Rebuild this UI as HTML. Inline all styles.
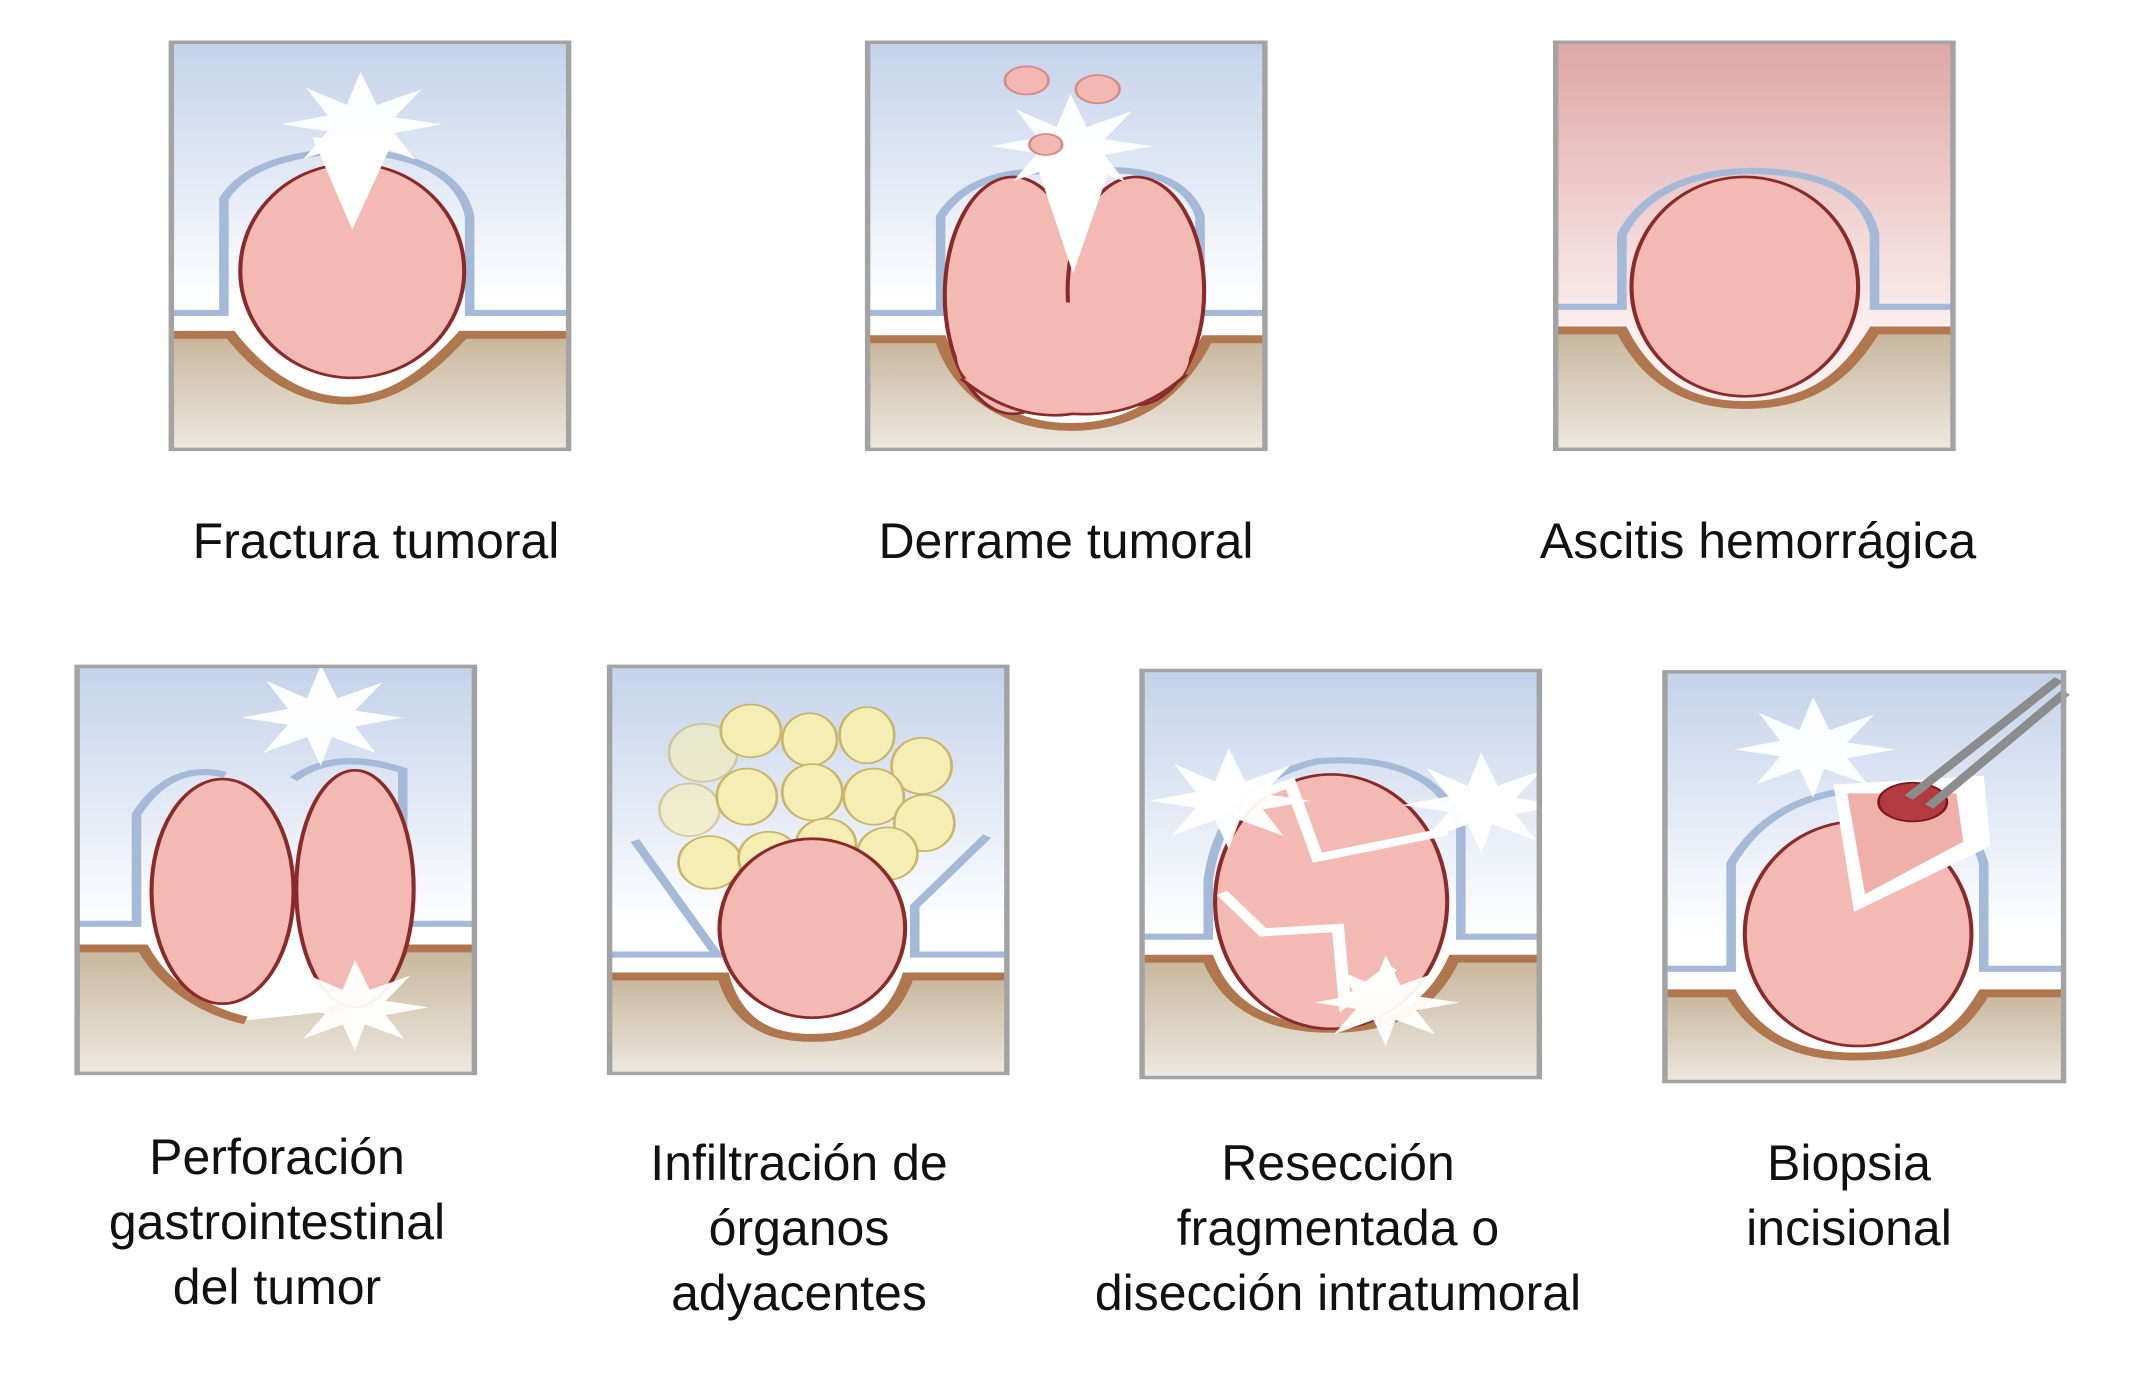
<!DOCTYPE html>
<html><head><meta charset="utf-8"><style>
html,body{margin:0;padding:0;background:#fff;}
#w{position:relative;width:2138px;height:1382px;overflow:hidden;}
svg{position:absolute;left:0;top:0;}
.t{position:absolute;font-family:"Liberation Sans",sans-serif;font-size:50px;line-height:65px;color:#111;text-align:center;white-space:nowrap;transform:translateX(-50%);}
</style></head><body><div id="w">
<svg width="2138" height="1382" viewBox="0 0 1566 1012" preserveAspectRatio="none">
<defs>
<linearGradient id="sky" x1="0" y1="0" x2="0" y2="1"><stop offset="0" stop-color="#c4d2ea"/><stop offset="0.65" stop-color="#ffffff"/></linearGradient>
<linearGradient id="psky" x1="0" y1="0" x2="0" y2="1"><stop offset="0" stop-color="#dfa6a6"/><stop offset="0.7" stop-color="#fbefef"/></linearGradient>
<linearGradient id="gr" x1="0" y1="0" x2="0" y2="1"><stop offset="0" stop-color="#c7b69c"/><stop offset="1" stop-color="#eee9e1"/></linearGradient>
<g id="star"><polygon points="0,-60 12,-22 45,-40 25,-8 60,0 25,10 40,40 8,22 0,55 -10,22 -42,40 -24,8 -58,0 -24,-10 -40,-42 -10,-22" fill="#ffffff" opacity="0.95"/></g>
</defs>
<g fill="none">
<!-- P1 -->
<g transform="translate(124,30) scale(1,0.6424)">
<rect width="294" height="467" fill="url(#sky)"/>
<path d="M0,335 H45 C70,385 100,410 130,410 C170,410 200,360 215,335 H294 V467 H0Z" fill="url(#gr)"/>
<path d="M0,310 H40 V180 Q60,130 130,125 Q210,130 220,200 V310 H294" stroke="#a5b9d8" stroke-width="7"/>
<path d="M0,335 H45 C70,385 100,410 130,410 C170,410 200,360 215,335 H294" stroke="#b0774e" stroke-width="9"/>
<ellipse cx="134" cy="262" rx="82" ry="122" fill="#f3bab4" stroke="#8a2a2a" stroke-width="3"/>
<polygon points="105,110 134,215 165,110" fill="#fff"/>
<use href="#star" transform="translate(140,95)"/>
<rect x="1.5" y="1.5" width="291" height="464" stroke="#a3a3a3" stroke-width="4"/>
</g>
<!-- P2 -->
<g transform="translate(634,30) scale(1,0.6424)">
<rect width="294" height="467" fill="url(#sky)"/>
<path d="M0,340 H55 C70,410 110,440 150,440 C200,440 230,400 250,340 H294 V467 H0Z" fill="url(#gr)"/>
<path d="M0,310 H55 V200 Q80,140 150,150 Q230,135 245,200 V310 H294" stroke="#a5b9d8" stroke-width="7"/>
<path d="M0,340 H55 C70,410 110,440 150,440 C200,440 230,400 250,340 H294" stroke="#b0774e" stroke-width="9"/>
<g fill="#f3bab4" stroke="#8a2a2a" stroke-width="3">
<ellipse cx="108" cy="290" rx="50" ry="135"/><ellipse cx="198" cy="285" rx="50" ry="130"/><ellipse cx="152" cy="360" rx="85" ry="62" stroke="none"/>
<path d="M70,385 Q110,435 152,425 Q200,430 235,380" />
</g>
<use href="#star" transform="translate(150,120)"/>
<polygon points="125,140 152,265 180,140" fill="#fff"/>
<circle cx="118" cy="45" r="16" fill="#f3b8b2" stroke="#d58c88" stroke-width="2"/>
<circle cx="170" cy="55" r="16" fill="#f3b8b2" stroke="#d58c88" stroke-width="2"/>
<circle cx="132" cy="118" r="12" fill="#f3b8b2" stroke="#d58c88" stroke-width="2"/>
<rect x="1.5" y="1.5" width="291" height="464" stroke="#a3a3a3" stroke-width="4"/>
</g>
<!-- P3 -->
<g transform="translate(1138,30) scale(1,0.6424)">
<rect width="294" height="467" fill="url(#psky)"/>
<path d="M0,330 H50 C70,390 100,415 140,415 C190,415 215,380 235,330 H294 V467 H0Z" fill="url(#gr)"/>
<path d="M0,303 H50 V220 Q75,150 145,148 Q225,150 235,220 V303 H294" stroke="#a5b9d8" stroke-width="7"/>
<path d="M0,330 H50 C70,390 100,415 140,415 C190,415 215,380 235,330 H294" stroke="#b0774e" stroke-width="9"/>
<ellipse cx="140" cy="280" rx="83" ry="125" fill="#f3bab4" stroke="#8a2a2a" stroke-width="3"/>
<rect x="1.5" y="1.5" width="291" height="464" stroke="#a3a3a3" stroke-width="4"/>
</g>
<!-- P4 -->
<g transform="translate(55,487) scale(1,0.6424)">
<rect width="294" height="467" fill="url(#sky)"/>
<path d="M0,323 V467 H294 V323 H240 C220,360 205,380 185,395 L125,405 C90,405 60,360 50,323 Z" fill="url(#gr)"/>
<path d="M0,295 H45 V170 Q70,110 110,125 M160,130 Q190,95 240,120 V295 H294" stroke="#a5b9d8" stroke-width="7"/>
<path d="M0,323 H50 C65,365 95,395 125,405" stroke="#b0774e" stroke-width="9"/>
<path d="M185,395 C210,380 230,360 240,323 H294" stroke="#b0774e" stroke-width="9"/>
<ellipse cx="108" cy="258" rx="52" ry="128" fill="#f3bab4" stroke="#8a2a2a" stroke-width="3"/>
<ellipse cx="205" cy="255" rx="43" ry="135" fill="#f3bab4" stroke="#8a2a2a" stroke-width="3"/>
<use href="#star" transform="translate(180,60)"/>
<use href="#star" transform="translate(205,390) scale(0.9)"/>
<rect x="1.5" y="1.5" width="291" height="464" stroke="#a3a3a3" stroke-width="4"/>
</g>
<!-- P5 -->
<g transform="translate(445,487) scale(1,0.6424)">
<rect width="294" height="467" fill="url(#sky)"/>
<path d="M0,355 H80 C95,410 120,425 150,425 C190,425 210,400 220,355 H294 V467 H0Z" fill="url(#gr)"/>
<path d="M0,330 H80 L20,200 M278,195 L225,275 V330 H294" stroke="#a5b9d8" stroke-width="7"/>
<path d="M0,355 H85 C95,410 120,425 150,425 C190,425 210,400 220,355 H294" stroke="#b0774e" stroke-width="9"/>
<g fill="#f5eeb4" stroke="#c9b66a" stroke-width="2">
<ellipse cx="70" cy="100" rx="25" ry="33" opacity="0.6"/><ellipse cx="105" cy="75" rx="22" ry="30"/><ellipse cx="148" cy="85" rx="20" ry="30"/><ellipse cx="190" cy="80" rx="20" ry="32"/><ellipse cx="230" cy="115" rx="22" ry="32"/>
<ellipse cx="60" cy="165" rx="22" ry="30" opacity="0.6"/><ellipse cx="102" cy="150" rx="22" ry="32"/><ellipse cx="150" cy="145" rx="22" ry="32"/><ellipse cx="195" cy="150" rx="22" ry="32"/><ellipse cx="232" cy="180" rx="22" ry="32"/>
<ellipse cx="75" cy="225" rx="23" ry="30"/><ellipse cx="118" cy="220" rx="22" ry="30"/><ellipse cx="160" cy="205" rx="22" ry="30"/><ellipse cx="205" cy="215" rx="22" ry="30"/>
</g>
<ellipse cx="150" cy="300" rx="68" ry="102" fill="#f3bab4" stroke="#8a2a2a" stroke-width="3"/>
<rect x="1.5" y="1.5" width="291" height="464" stroke="#a3a3a3" stroke-width="4"/>
</g>
<!-- P6 -->
<g transform="translate(835,490) scale(1,0.6424)">
<rect width="294" height="467" fill="url(#sky)"/>
<path d="M0,330 H50 C65,390 100,410 140,410 C190,410 215,380 230,330 H294 V467 H0Z" fill="url(#gr)"/>
<path d="M0,305 H50 V240 Q60,130 130,105 Q215,95 235,180 V305 H294" stroke="#a5b9d8" stroke-width="7"/>
<path d="M0,330 H50 C65,390 100,410 140,410 C190,410 215,380 230,330 H294" stroke="#b0774e" stroke-width="9"/>
<ellipse cx="140" cy="265" rx="85" ry="145" fill="#f3bab4" stroke="#8a2a2a" stroke-width="3"/>
<path d="M75,150 L110,130 L130,215 L225,185 M60,255 L90,300 L145,295 L150,380 L185,340" stroke="#fff" stroke-width="9"/>
<use href="#star" transform="translate(65,150)"/>
<use href="#star" transform="translate(250,155)"/>
<use href="#star" transform="translate(180,380) scale(0.9)"/>
<rect x="1.5" y="1.5" width="291" height="464" stroke="#a3a3a3" stroke-width="4"/>
</g>
<!-- P7 -->
<g transform="translate(1218,491) scale(1,0.6424)">
<rect width="295" height="470" fill="url(#sky)"/>
<path d="M0,368 H50 C70,420 100,440 140,440 C190,440 215,420 235,368 H295 V470 H0Z" fill="url(#gr)"/>
<path d="M0,340 H50 V220 Q80,140 150,135 Q220,140 235,220 V340 H295" stroke="#a5b9d8" stroke-width="7"/>
<path d="M0,368 H50 C70,420 100,440 140,440 C190,440 215,420 235,368 H295" stroke="#b0774e" stroke-width="9"/>
<ellipse cx="143" cy="300" rx="83" ry="128" fill="#f3bab4" stroke="#8a2a2a" stroke-width="3"/>
<polygon points="125,130 140,275 240,200 235,120" fill="#fff"/>
<polygon points="135,140 148,255 220,195 215,140" fill="#f0b0aa"/>
<use href="#star" transform="translate(110,90)"/>
<ellipse cx="183" cy="150" rx="25" ry="22" fill="#b33a3f" stroke="#7a1a20" stroke-width="2"/>
<path d="M290,10 L180,145 M295,25 L195,155" stroke="#8c8c8c" stroke-width="8"/>
<rect x="1.5" y="1.5" width="292" height="467" stroke="#a3a3a3" stroke-width="4"/>
</g>
</g>
</svg>
<div class="t" style="left:376px;top:509px">Fractura tumoral</div>
<div class="t" style="left:1066px;top:509px">Derrame tumoral</div>
<div class="t" style="left:1758px;top:509px">Ascitis hemorrágica</div>
<div class="t" style="left:277px;top:1125px">Perforación<br>gastrointestinal<br>del tumor</div>
<div class="t" style="left:799px;top:1131px">Infiltración de<br>órganos<br>adyacentes</div>
<div class="t" style="left:1338px;top:1131px">Resección<br>fragmentada o<br>disección intratumoral</div>
<div class="t" style="left:1849px;top:1131px">Biopsia<br>incisional</div>
</div></body></html>
